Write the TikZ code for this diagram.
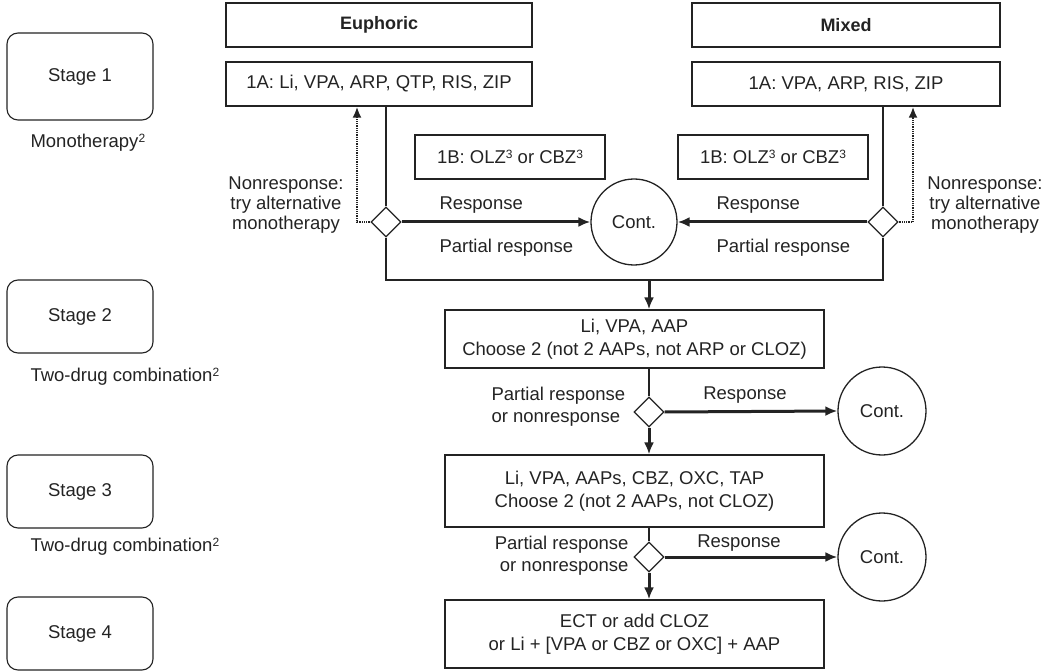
\documentclass[tikz,border=0pt]{standalone}
\usepackage{fontspec}
\setmainfont{Liberation Sans}
\usetikzlibrary{arrows.meta, positioning, shapes.geometric}
\definecolor{inkgray}{RGB}{35,35,35}
\newcommand{\supnum}[1]{\raisebox{0.5ex}{\fontsize{12}{12}\selectfont #1}}

\begin{document}
\begin{tikzpicture}[
    x=1pt, y=-1pt,
    every node/.style={font=\fontsize{18.5}{21}\selectfont, text=inkgray},
    stagebox/.style={
      rectangle, rounded corners=11pt,
      draw=inkgray, line width=1.1pt,
      minimum width=146pt, minimum height=73pt
    },
    drugbox/.style={
      rectangle, draw=inkgray, line width=1.3pt,
      align=center, inner sep=0pt,
      font=\fontsize{18.5}{23}\selectfont
    },
    decide/.style={diamond, draw=inkgray, line width=1.3pt, fill=white,
      minimum width=30pt, minimum height=30pt, inner sep=0pt},
    contnode/.style={circle, draw=inkgray, line width=1.3pt, minimum size=86pt, inner sep=0pt},
    link/.style={draw=inkgray, line width=1.3pt},
    arr/.style={link, line width=3pt, -{Latex[length=12pt,width=10pt]}},
    dotarr/.style={link, line width=2.2pt, dash pattern=on 1pt off 0.8pt, -{Latex[length=11pt,width=9pt]}},
    note/.style={align=center, font=\fontsize{18.5}{20}\selectfont}
  ]
  \useasboundingbox (0,0) rectangle (1047,671);

  % stages on the left
  \node[stagebox, minimum height=87pt] (st1) at (80,76.5) {Stage 1};
  \node[stagebox] (st2) at (80,316.5) {Stage 2};
  \node[stagebox] (st3) at (80,491.5) {Stage 3};
  \node[stagebox] (st4) at (80,633.5) {Stage 4};
  \node[anchor=west] (mono) at (27,143) {Monotherapy\supnum{2}};
  \node[anchor=west] (combo2) at (27,377) {Two-drug combination\supnum{2}};
  \node[anchor=west] (combo3) at (27,547) {Two-drug combination\supnum{2}};

  % stage 1
  \node[drugbox, minimum width=306pt, minimum height=44pt,
        font=\fontsize{18}{20}\selectfont\bfseries] (euph) at (379,25) {Euphoric};
  \node[drugbox, minimum width=308pt, minimum height=44pt,
        font=\fontsize{18}{20}\selectfont\bfseries] (mixed) at (846,25) {Mixed};
  \node[drugbox, minimum width=306pt, minimum height=44pt] (oneaE) at (379,84)
    {1A: Li, VPA, ARP, QTP, RIS, ZIP};
  \node[drugbox, minimum width=308pt, minimum height=44pt] (oneaM) at (846,84)
    {1A: VPA, ARP, RIS, ZIP};
  \node[drugbox, minimum width=190pt, minimum height=44pt] (onebE) at (510,157)
    {1B: OLZ\supnum{3} or CBZ\supnum{3}};
  \node[drugbox, minimum width=190pt, minimum height=44pt] (onebM) at (773,157)
    {1B: OLZ\supnum{3} or CBZ\supnum{3}};
  \node[contnode] (contA) at (634,222) {Cont.};
  \node[decide] (dE) at (386,222) {};
  \node[decide] (dM) at (883,222) {};
  \coordinate (mrg) at (649,280);

  \node[anchor=west] (respE) at (436,205) {Response};
  \node[anchor=west] (partE) at (436,248) {Partial response};
  \node[anchor=west] (respM) at (713,205) {Response};
  \node[anchor=west] (partM) at (713,248) {Partial response};
  \node[note] (nonE) at (286,205) {Nonresponse:\\try alternative\\monotherapy};
  \node[note] (nonM) at (985,205) {Nonresponse:\\try alternative\\monotherapy};

  % stages 2 to 4
  \node[drugbox, minimum width=379pt, minimum height=58pt] (stg2) at (634.5,339)
    {Li, VPA, AAP\\ Choose 2 (not 2 AAPs, not ARP or CLOZ)};
  \node[decide] (d2) at (649,412) {};
  \node[contnode, minimum size=88pt] (contB) at (882,411) {Cont.};
  \node[drugbox, minimum width=379pt, minimum height=72pt] (stg3) at (634.5,491)
    {Li, VPA, AAPs, CBZ, OXC, TAP\\ Choose 2 (not 2 AAPs, not CLOZ)};
  \node[decide] (d3) at (649,557) {};
  \node[contnode, minimum size=88pt] (contC) at (882,557) {Cont.};
  \node[drugbox, minimum width=379pt, minimum height=68pt] (stg4) at (634.5,634)
    {ECT or add CLOZ\\ or Li + [VPA or CBZ or OXC] + AAP};

  \node[anchor=west, align=left, font=\fontsize{18.5}{22}\selectfont] (part2) at (488,407)
    {Partial response\\or nonresponse};
  \node (resp2) at (745,395) {Response};
  \node[anchor=east, align=right, font=\fontsize{18.5}{22}\selectfont] (part3) at (632,556)
    {Partial response\\or nonresponse};
  \node (resp3) at (739,543) {Response};

  % connectors
  \draw[link] (dE.north) -- (dE.north |- oneaE.south);
  \draw[link] (dM.north) -- (dM.north |- oneaM.south);
  \draw[link] (dE.south) |- (mrg) -| (dM.south);
  \draw[arr] (mrg) -- (mrg |- stg2.north);
  \draw[arr] (dE.east) -- (contA.west);
  \draw[arr] (dM.west) -- (contA.east);
  \draw[dotarr] (dE.west) -| ([xshift=-22pt]oneaE.south);
  \draw[dotarr] (dM.east) -| ([xshift=67pt]oneaM.south);

  \draw[link] (stg2.south -| d2) -- (d2.north);
  \draw[arr] (d2.east) -- (contB.west);
  \draw[arr] (d2.south) -- (d2.south |- stg3.north);
  \draw[link] (stg3.south -| d3) -- (d3.north);
  \draw[arr] (d3.east) -- (contC.west);
  \draw[arr] (d3.south) -- (d3.south |- stg4.north);
\end{tikzpicture}
\end{document}
